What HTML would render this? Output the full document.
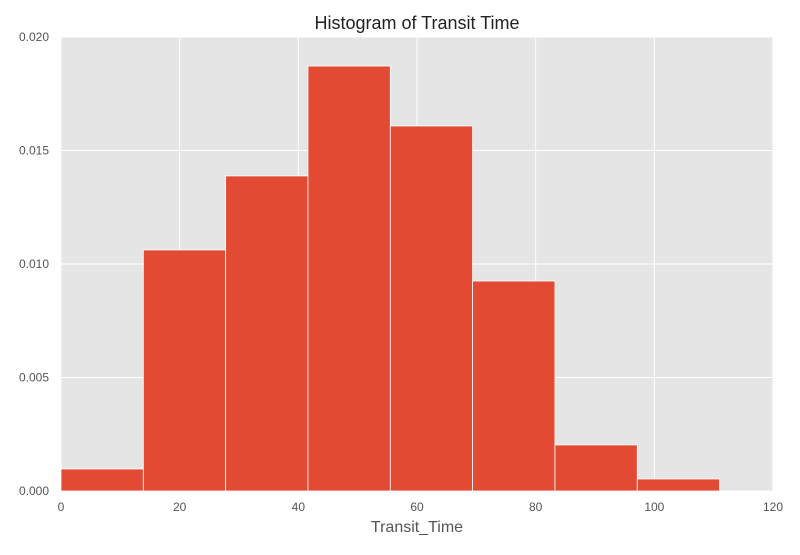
<!DOCTYPE html>
<html><head><meta charset="utf-8"><style>
body{margin:0;background:#fff;font-family:"Liberation Sans",sans-serif}
</style></head><body>
<svg id="chart" width="800" height="550" xmlns="http://www.w3.org/2000/svg" font-family="Liberation Sans, sans-serif"></svg>
<script>
const binStart = 0;
const binWidth = 13.875;
const densities = [0.00097, 0.01062, 0.01388, 0.01872, 0.01608, 0.00925, 0.00203, 0.00053];
const xTicks = [0, 20, 40, 60, 80, 100, 120];
const yTicks = [0, 0.005, 0.010, 0.015, 0.020];
const yTickLabels = ["0.000", "0.005", "0.010", "0.015", "0.020"];

const L=61,R=773,T=37,B=491;
const xs=v=>L+(v-0)/(120-0)*(R-L);
const ys=v=>B-(v/0.02)*(B-T);
const svg=document.getElementById('chart');
const NS='http://www.w3.org/2000/svg';
function mk(tag,attrs,parent){const e=document.createElementNS(NS,tag);for(const k in attrs)e.setAttribute(k,attrs[k]);(parent||svg).appendChild(e);return e;}

const bg=mk('rect',{x:L,y:T,width:R-L,height:B-T,fill:'#E5E5E5'});



xTicks.forEach(t=>{
  const g=mk('line',{x1:xs(t),x2:xs(t),y1:T,y2:B,stroke:'#fff','stroke-width':1});
  
  
  const tx=mk('text',{x:xs(t),y:B+20,'text-anchor':'middle','font-size':12,fill:'#555'});
  tx.textContent=t;
  
  
});
yTicks.forEach((t,i)=>{
  const g=mk('line',{x1:L,x2:R,y1:ys(t),y2:ys(t),stroke:'#fff','stroke-width':1});
  
  
  const tx=mk('text',{x:L-12,y:ys(t)+4,'text-anchor':'end','font-size':12,fill:'#555'});
  tx.textContent=yTickLabels[i];
  
  
});

densities.forEach((d,i)=>{
  const x0=xs(binStart+i*binWidth), x1=xs(binStart+(i+1)*binWidth);
  const r=mk('rect',{x:x0,y:ys(d),width:x1-x0,height:B-ys(d),fill:'#E24A33',stroke:'#fff','stroke-width':0.8});
  
  
});

const title=mk('text',{x:(L+R)/2,y:29,'text-anchor':'middle','font-size':18,fill:'#222'});
title.textContent='Histogram of Transit Time';


const xl=mk('text',{x:(L+R)/2,y:532,'text-anchor':'middle','font-size':16,fill:'#555'});
xl.textContent='Transit_Time';


</script>
</body></html>
